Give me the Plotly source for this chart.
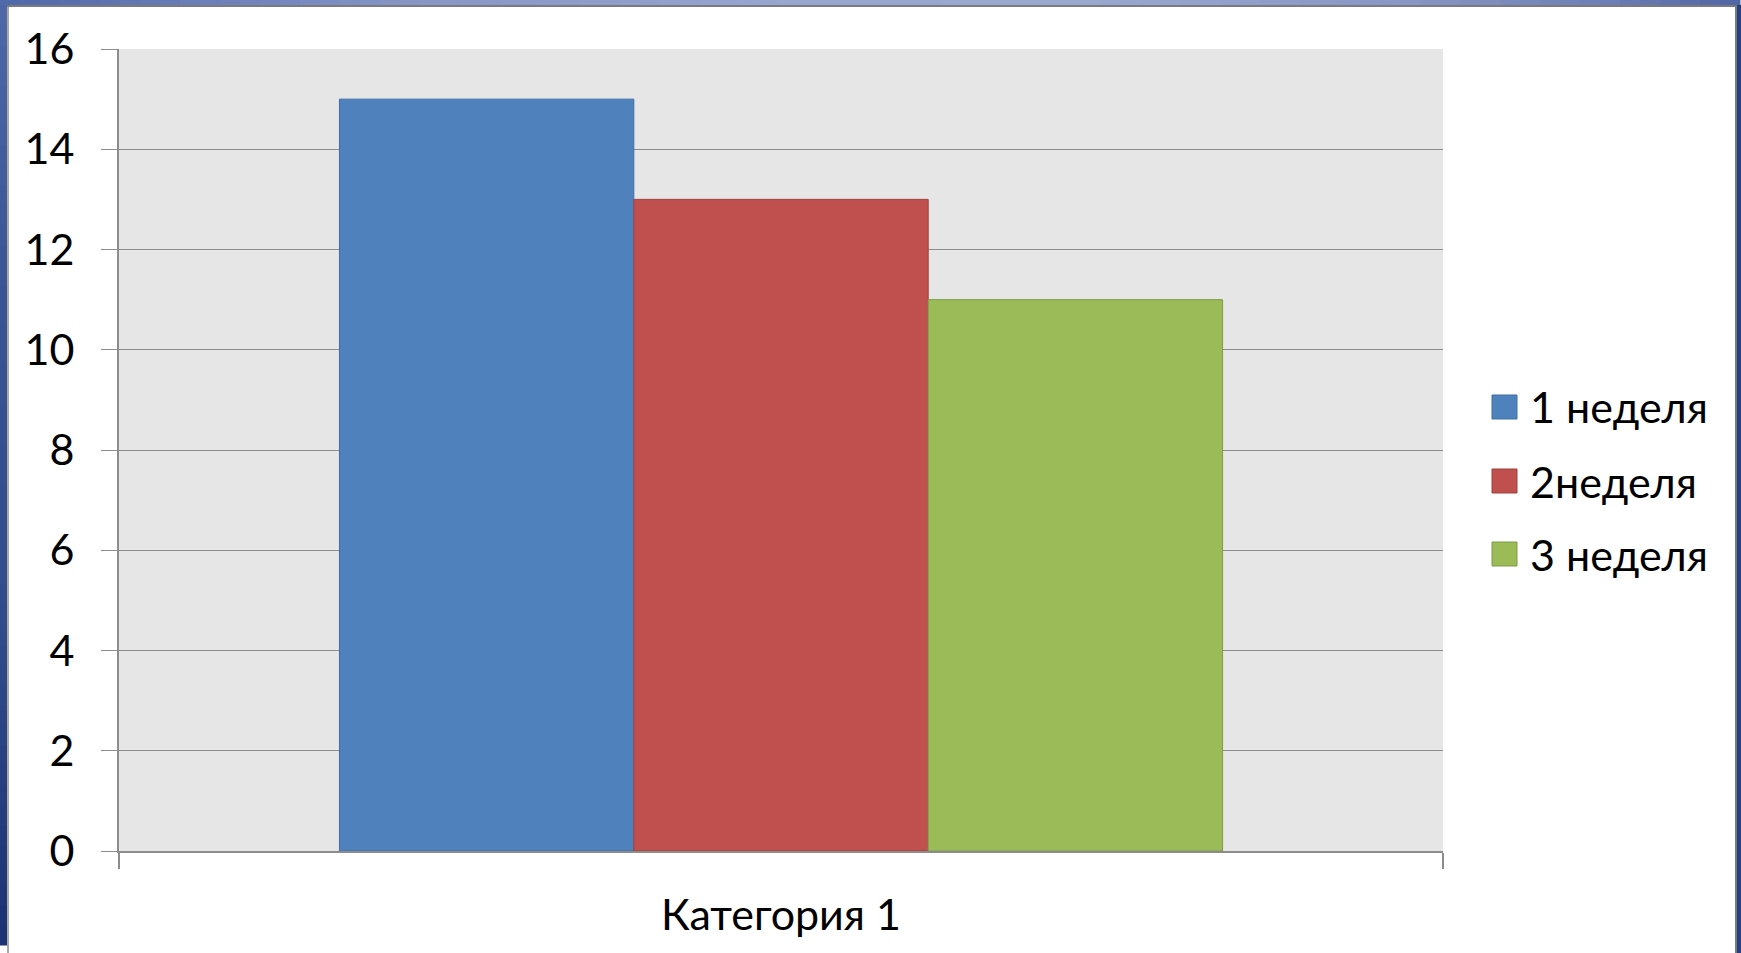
import plotly.graph_objects as go

# Data
categories = ["Категория 1"]
series_names = ["1 неделя", "2неделя", "3 неделя"]
series_values = [[15], [13], [11]]
series_colors = ["#4f81bd", "#c0504d", "#9bbb59"]
series_edges = ["#3f6ea6", "#a13f3c", "#7f9c45"]
y_ticks = [0, 2, 4, 6, 8, 10, 12, 14, 16]

W, H = 1741, 953
ML, MR, MT, MB = 119, 298, 49, 102
PW, PH = W - ML - MR, H - MT - MB

FONT = "Lato"
FSIZE = 43


def px_x(px):
    return (px - ML) / PW


def px_y(py):
    return (H - MB - py) / PH


fig = go.Figure()
for name, vals, col, edge in zip(series_names, series_values, series_colors, series_edges):
    fig.add_trace(go.Bar(
        x=categories, y=vals, name=name,
        marker=dict(color=col, line=dict(color=edge, width=1)),
        showlegend=False,
    ))

shapes = []
annotations = []

# Plot-area background
shapes.append(dict(type="rect", xref="paper", yref="paper", x0=0, x1=1, y0=0, y1=1,
                   fillcolor="#e6e6e6", line=dict(width=0), layer="below"))

# Legend: colour squares with labels
leg_y = [407, 481, 554]
for name, col, edge, cy in zip(series_names, series_colors, series_edges, leg_y):
    shapes.append(dict(type="rect", xref="paper", yref="paper",
                       x0=px_x(1492), x1=px_x(1517), y0=px_y(cy + 12), y1=px_y(cy - 12),
                       fillcolor=col, line=dict(color=edge, width=1)))
    annotations.append(dict(text=name, xref="paper", yref="paper", x=px_x(1528), y=px_y(cy),
                            xanchor="left", yanchor="middle", showarrow=False,
                            font=dict(family=FONT, size=FSIZE, color="#000000")))


# Slide frame
def band(x0, x1, y0, y1, color):
    shapes.append(dict(type="rect", xref="paper", yref="paper",
                       x0=px_x(x0), x1=px_x(x1), y0=px_y(y1), y1=px_y(y0),
                       fillcolor=color, line=dict(width=0), layer="above"))


def lerp(c0, c1, t):
    a = [int(c0[i:i + 2], 16) for i in (1, 3, 5)]
    b = [int(c1[i:i + 2], 16) for i in (1, 3, 5)]
    return "#" + "".join(f"{round(p + (q - p) * t):02x}" for p, q in zip(a, b))


top_stops = [(0, "#4f68a8"), (400, "#8595c6"), (800, "#97a7d0"), (1100, "#98a8cf"),
             (1400, "#8797c6"), (1600, "#6e80b4"), (1741, "#5065a4")]
step = 20
for x in range(0, W, step):
    for (xa, ca), (xb, cb) in zip(top_stops, top_stops[1:]):
        if xa <= x + step / 2 <= xb:
            band(x, x + step + 0.5, 0, 5, lerp(ca, cb, (x + step / 2 - xa) / (xb - xa)))
            break

left_stops = [(0, "#4f68a8"), (300, "#3a5493"), (600, "#334d8c"), (953, "#1c3272")]
step = 20
for y in range(5, H, step):
    for (ya, ca), (yb, cb) in zip(left_stops, left_stops[1:]):
        if ya <= y + step / 2 <= yb:
            band(0, 7, y, y + step + 0.5, lerp(ca, cb, (y + step / 2 - ya) / (yb - ya)))
            break

band(1737, W, 5, H, "#24407e")
band(7, 9, 5, H, "#a8a8a8")
band(7, 1737, 5, 7, "#7a7a80")
band(1735, 1737, 5, H, "#7a7a80")

fig.update_layout(
    width=W, height=H,
    margin=dict(l=ML, r=MR, t=MT, b=MB, pad=0),
    paper_bgcolor="#ffffff",
    plot_bgcolor="rgba(0,0,0,0)",
    barmode="group",
    bargap=0.333,
    bargroupgap=0,
    showlegend=False,
    shapes=shapes,
    annotations=annotations,
    font=dict(family=FONT, size=FSIZE, color="#000000"),
)
fig.update_xaxes(
    type="category",
    showgrid=False,
    showline=True, linecolor="#8c8c8c", linewidth=2,
    ticks="outside", tickson="boundaries", ticklen=16, tickcolor="#8c8c8c", tickwidth=2,
    tickfont=dict(family=FONT, size=FSIZE, color="#000000"),
    ticklabelstandoff=25,
)
fig.update_yaxes(
    range=[0, 16],
    tickvals=y_ticks,
    showgrid=True, gridcolor="#8c8c8c", gridwidth=1,
    showline=True, linecolor="#8c8c8c", linewidth=2,
    ticks="outside", ticklen=16, tickcolor="#8c8c8c", tickwidth=1,
    tickfont=dict(family=FONT, size=FSIZE, color="#000000"),
    ticklabelstandoff=18,
    zeroline=False,
)

fig.write_html("out.html")
